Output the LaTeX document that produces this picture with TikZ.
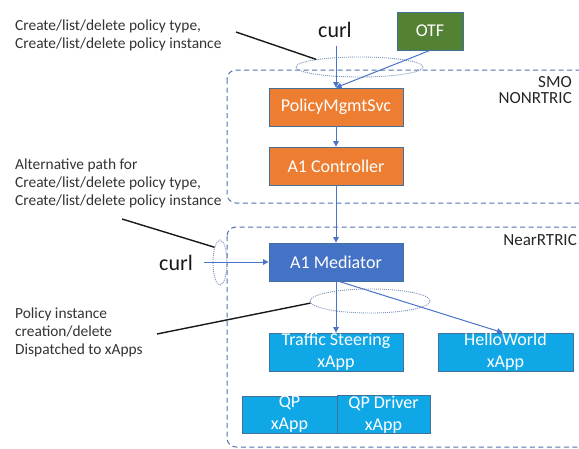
\documentclass[tikz,border=0pt]{standalone}
\usepackage{fontspec}
\setmainfont{Carlito}
\usetikzlibrary{arrows.meta,shapes.geometric}
\definecolor{orangeF}{HTML}{ED7D31}
\definecolor{medF}{HTML}{4472C4}
\definecolor{xappF}{HTML}{0FA7E6}
\definecolor{otfF}{HTML}{548235}
\definecolor{edgeC}{HTML}{41719C}
\definecolor{arrC}{HTML}{4A74C9}
\definecolor{dashC}{HTML}{4F73B0}
\definecolor{dotC}{HTML}{7F93BC}
\definecolor{labC}{HTML}{333333}
\tikzset{
  box/.style={draw=edgeC, line width=0.8pt, inner sep=0pt, text=white, align=center,
    font=\fontsize{18}{22}\selectfont},
  orangebox/.style={box, fill=orangeF, minimum width=134pt, minimum height=38pt},
  medbox/.style={box, fill=medF, minimum width=134pt, minimum height=38pt},
  xappbox/.style={box, fill=xappF, minimum height=38pt},
  otfbox/.style={box, fill=otfF, minimum width=66pt, minimum height=38pt},
  arr/.style={draw=arrC, line width=1pt, -{Triangle[width=5.5pt,length=5.5pt]}},
  region/.style={draw=dashC, line width=1pt, dash pattern=on 5pt off 3.5pt, rounded corners=9pt},
  dotell/.style={ellipse, draw=dotC, line width=0.9pt, dash pattern=on 1pt off 1pt, inner sep=0pt},
  lab/.style={text=labC, align=left, inner sep=0pt, font=\fontsize{15.4}{17.6}\selectfont},
  tag/.style={text=black!85, align=right, inner sep=0pt, font=\fontsize{17}{16}\selectfont},
  curltxt/.style={text=black!90, inner sep=0pt, font=\fontsize{22}{24}\selectfont},
  callout/.style={draw=black!90, line width=1.4pt}
}
\begin{document}
\begin{tikzpicture}[x=1pt,y=-1pt]
\useasboundingbox (0,0) rectangle (579,448);
\clip (0,0) rectangle (579,448);
\fill[white] (0,0) rectangle (579,448);

% regions
\draw[region] (227,70) rectangle (600,203);
\draw[region] (227,227) rectangle (600,447);

% region tags
\node[tag, anchor=east] (smo) at (572,82) {SMO};
\node[tag, anchor=east] (nonrt) at (572,98) {NONRTRIC};
\node[tag, anchor=east] (nearrt) at (577,240) {NearRTRIC};

% boxes
\node[otfbox] (otf) at (430,31) {OTF};
\node[orangebox] (pm) at (336,107) {PolicyMgmtSvc};
\node[orangebox] (ac) at (336,166) {A1 Controller};
\node[medbox] (med) at (336,262) {A1 Mediator};
\node[xappbox, minimum width=134pt] (ts) at (336,352) {Traffic Steering\\xApp};
\node[xappbox, minimum width=135pt] (hw) at (505.5,352) {HelloWorld\\xApp};
\node[xappbox, minimum width=95pt, minimum height=37pt] (qp) at (289.5,414.5) {QP\\xApp};
\node[xappbox, minimum width=93pt, minimum height=37pt] (qpd) at (383.5,414.5) {QP Driver\\xApp};

% curl sources
\node[curltxt, anchor=base] (curlA) at (335,37) {curl};
\node[curltxt, anchor=base east] (curlB) at (193,270) {curl};

% dotted ellipses
\node[dotell, minimum width=127pt, minimum height=20pt] (e1) at (359.5,67) {};
\node[dotell, minimum width=14pt, minimum height=45pt] (e2) at (220,262.5) {};
\node[dotell, minimum width=120pt, minimum height=24pt] (e3) at (370,301) {};

% arrows
\draw[arr, shorten <=9pt] (curlA.south -| pm.north) -- (pm.north);
\draw[arr] (otf.south) -- (pm.north);
\draw[arr] (pm.south) -- (ac.north);
\draw[arr] (ac.south) -- (med.north);
\draw[arr, shorten <=11pt] (curlB.east |- med.west) -- (med.west);
\draw[arr] (med.south) -- (ts.north);
\draw[arr] ([xshift=3pt]med.south) -- ([xshift=-3pt]hw.north);

% labels
\node[lab, anchor=north west] (l1) at (15,20) {Create/list/delete policy type,\\Create/list/delete policy instance};
\node[lab, anchor=north west] (l2) at (15,159) {Alternative path for\\Create/list/delete policy type,\\Create/list/delete policy instance};
\node[lab, anchor=north west] (l3) at (15,308) {Policy instance\\creation/delete\\Dispatched to xApps};

% callouts
\coordinate (c1) at (236,32);
\coordinate (c2) at (122,219);
\coordinate (c3) at (157,334);
\draw[callout] (c1) -- (e1.170);
\draw[callout] (c2) -- (e2.110);
\draw[callout] (c3) -- (e3.182);
\end{tikzpicture}
\end{document}
